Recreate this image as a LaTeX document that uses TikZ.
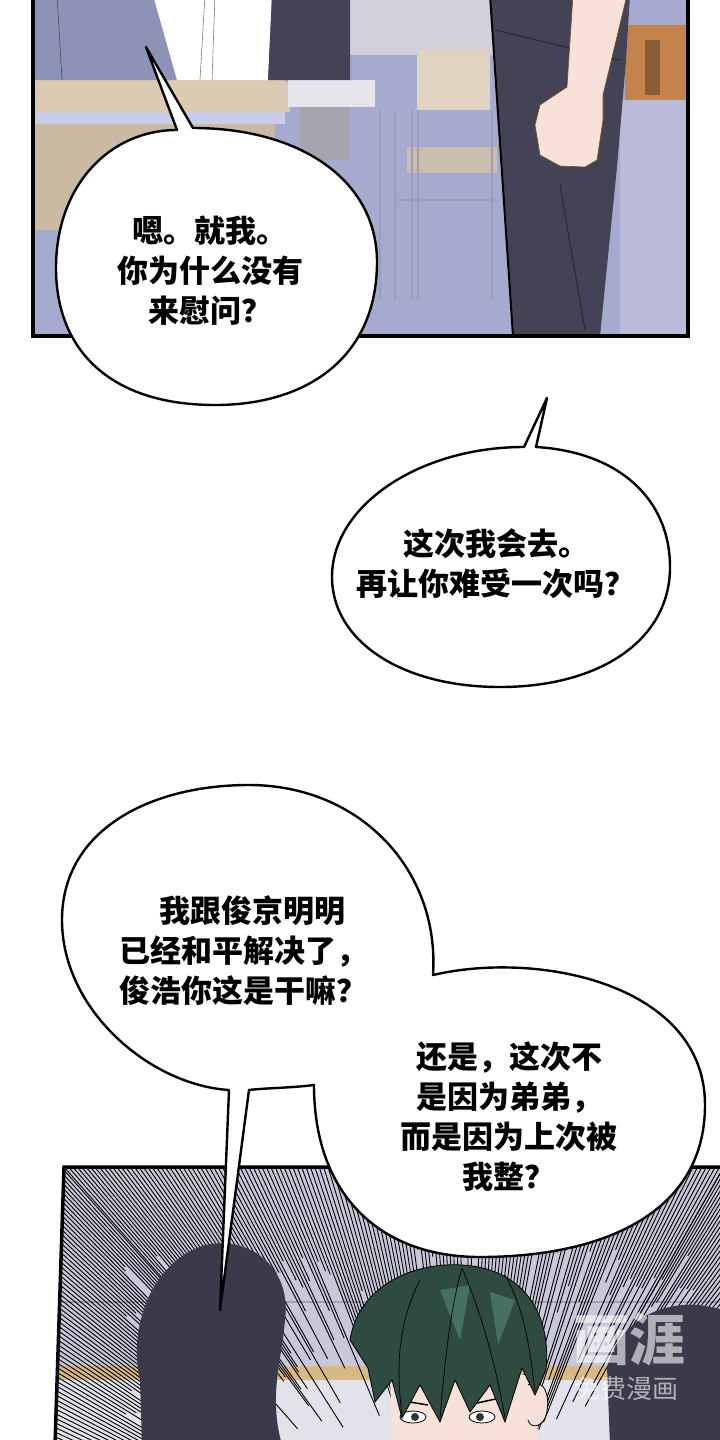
\documentclass[tikz,border=0pt]{standalone}
\usepackage{fontspec}
\newfontfamily\cjk{Noto Sans CJK SC}
\usetikzlibrary{calc}

\definecolor{floorblue}{HTML}{A7AACF}
\definecolor{wallgray}{HTML}{D2D0DA}
\definecolor{deskbeige}{HTML}{DCCAB2}
\definecolor{deskbar}{HTML}{C9CDEA}
\definecolor{desktop}{HTML}{E6E4EA}
\definecolor{pantsblue}{HTML}{8D92B7}
\definecolor{darkcloth}{HTML}{444356}
\definecolor{skin}{HTML}{F7E1D8}
\definecolor{chairbeige}{HTML}{E0D3BF}
\definecolor{leggray}{HTML}{9D9FBA}
\definecolor{rustbrown}{HTML}{C4834D}
\definecolor{panelbg}{HTML}{C8C8DA}
\definecolor{stripe}{HTML}{D8B984}
\definecolor{lightband}{HTML}{E2E2EA}
\definecolor{shadowfig}{HTML}{3B3A4B}
\definecolor{hairgreen}{HTML}{2E4A41}
\definecolor{hairlight}{HTML}{46705F}

\begin{document}
\begin{tikzpicture}[x=1pt,y=-1pt]
  \tikzset{
    bubble/.style={fill=white,draw=black,line width=2.4pt,line join=round},
    speech/.style={font=\cjk\bfseries\fontsize{31}{40}\selectfont,align=center,inner sep=0pt},
    panelframe/.style={draw=black,line width=3.5pt},
    speedline/.style={black,line width=0.9pt},
    watermark/.style={text=white,opacity=0.6}
  }
  \useasboundingbox (0,0) rectangle (720,1440);
  \fill[white] (0,0) rectangle (720,1440);

  % top panel
  \begin{scope}
    \clip (33,-5) rectangle (688,336);
    \fill[floorblue] (33,-5) rectangle (688,336);
    \fill[wallgray] (350,-5) rectangle (495,55);
    \fill[rustbrown] (625,25) rectangle (688,100);
    \fill[rustbrown!70!black] (645,40) rectangle (660,95);
    \fill[floorblue!80!white] (620,100) rectangle (688,336);
    % chairs in the back
    \fill[chairbeige] (417,50) rectangle (490,110);
    \fill[chairbeige!90!black] (407,147) rectangle (497,173);
    \foreach \lx in {380,395,412,418,492}
      \draw[leggray,line width=2.5pt] (\lx,110) -- (\lx,300);
    \draw[leggray,line width=2pt] (395,200) -- (495,200);
    % desk in front
    \fill[deskbeige] (33,80) -- (280,80) .. controls (288,80) and (290,84) .. (290,92) -- (290,112) -- (33,112) -- cycle;
    \fill[deskbar] (33,112) rectangle (285,124);
    \fill[deskbeige!92!black] (33,124) rectangle (275,230);
    \fill[desktop] (288,80) rectangle (375,107);
    \fill[desktop!60!darkcloth] (300,107) rectangle (350,160);
    % people
    \fill[pantsblue] (33,-5) -- (153,-5) -- (177,80) -- (33,80) -- cycle;
    \draw[black!70,line width=0.6pt] (57,-5) -- (62,80);
    \fill[white] (153,-5) -- (272,-5) -- (268,80) -- (177,80) -- cycle;
    \draw[gray,line width=0.6pt] (205,-5) -- (200,80) (215,-5) -- (212,80);
    \fill[darkcloth] (272,-5) -- (350,-5) -- (350,80) -- (268,80) -- cycle;
    \fill[darkcloth] (490,-5) -- (630,-5) -- (626,60) -- (617,167) -- (600,336) -- (513,336) -- cycle;
    \draw[darkcloth!60!black,line width=1pt] (560,185) -- (585,330) (495,30) -- (620,60);
    \draw[black,line width=2pt] (490,-5) -- (513,336);
    \fill[skin,draw=brown!60!black,line width=0.6pt] (573,-5) -- (567,87) -- (540,105) -- (535,125) -- (540,155) -- (560,166) -- (585,167) -- (597,160) -- (603,120) -- (603,95) -- (627,-5) -- cycle;
  \end{scope}
  \draw[panelframe] (33,-10) -- (33,336) -- (688,336) -- (688,-10);

  % bottom panel
  \begin{scope}
    \clip (64,1167) -- (725,1167) -- (725,1445) -- (55,1445) -- cycle;
    \fill[panelbg] (50,1160) rectangle (725,1445);
    \fill[lightband] (50,1380) rectangle (725,1445);
    \fill[stripe] (50,1366) rectangle (725,1380);
    \draw[panelbg!80!black,line width=1.5pt] (50,1302) -- (725,1302);
    \coordinate (focus) at (465,1620);
    \pgfmathsetseed{11}
    \foreach \i in {0,...,150}{
      \pgfmathsetmacro\xs{64+\i*4.4}
      \pgfmathsetmacro\rlen{0.18+0.42*rnd}
      \draw[speedline] (\xs,1167) -- ($(\xs,1167)!\rlen!(focus)$);
    }
    \foreach \i in {0,...,60}{
      \pgfmathsetmacro\ys{1170+\i*4.6}
      \pgfmathsetmacro\xs{64-9*(\ys-1167)/273}
      \pgfmathsetmacro\rlen{0.15+0.4*rnd}
      \draw[speedline] (\xs,\ys) -- ($(\xs,\ys)!\rlen!(focus)$);
    }
    \foreach \i in {0,...,45}{
      \pgfmathsetmacro\ys{1170+\i*6}
      \pgfmathsetmacro\rlen{0.1+0.3*rnd}
      \draw[speedline] (722,\ys) -- ($(722,\ys)!\rlen!(focus)$);
    }
    % dark figure on the left
    \fill[shadowfig] (142,1445) -- (140,1380) .. controls (128,1330) and (150,1262) .. (205,1245) .. controls (250,1235) and (292,1268) .. (285,1320) .. controls (282,1360) and (268,1395) .. (282,1445) -- cycle;
    % dark figure on the right
    \fill[shadowfig] (610,1445) -- (607,1367) .. controls (620,1320) and (660,1302) .. (700,1305) -- (725,1310) -- (725,1445) -- cycle;
    % green haired boy
    \fill[skin] (390,1375) -- (540,1375) -- (537,1445) -- (392,1445) -- cycle;
    \fill[skin,draw=black,line width=0.8pt] (528,1385) .. controls (545,1375) and (552,1400) .. (545,1418) .. controls (540,1428) and (530,1428) .. (528,1420);
    \fill[white,draw=black,line width=0.8pt] (413,1417) ellipse (13 and 6) (482,1417) ellipse (13 and 6);
    \fill[black!80] (415,1417) circle (4) (480,1417) circle (4);
    \draw[black,line width=1.5pt] (398,1400) -- (428,1405) (468,1405) -- (500,1398);
    \fill[hairgreen,draw=black,line width=0.8pt] (350,1340) .. controls (358,1288) and (410,1262) .. (462,1265) .. controls (520,1268) and (552,1310) .. (546,1370) -- (535,1395) -- (522,1368) -- (505,1422) -- (490,1385) -- (470,1412) -- (455,1380) -- (440,1422) -- (420,1385) -- (402,1418) -- (392,1380) -- (375,1402) -- (368,1368) -- cycle;
    \fill[hairlight] (440,1290) -- (470,1285) -- (460,1340) -- cycle (490,1292) -- (515,1300) -- (498,1345) -- cycle;
    \draw[black,line width=0.7pt] (462,1268) .. controls (450,1310) and (445,1360) .. (440,1418)
      (462,1268) .. controls (480,1310) and (495,1360) .. (505,1418)
      (420,1280) .. controls (400,1320) and (395,1360) .. (402,1415)
      (505,1275) .. controls (525,1310) and (530,1350) .. (535,1392);
    % watermark
    \node[watermark,font=\cjk\bfseries\fontsize{56}{56}\selectfont] (logo) at (629,1339) {画涯};
    \node[watermark,font=\cjk\fontsize{26}{26}\selectfont] (logosub) at (626,1389) {免费漫画};
  \end{scope}
  \draw[panelframe] (725,1167) -- (64,1167) -- (55,1445);

  % speech bubbles
  \draw[bubble] (193,128) .. controls (300,128) and (377,180) .. (377,262) .. controls (377,355) and (310,405) .. (215,405) .. controls (110,405) and (56,350) .. (56,268) .. controls (56,185) and (110,130) .. (177,130) -- (146,47) -- cycle;
  \node[speech] (askwhy) at (210,271) {嗯。就我。\\你为什么没有\\来慰问？};

  \draw[bubble] (536,447) .. controls (620,452) and (670,500) .. (670,567) .. controls (670,640) and (600,687) .. (500,687) .. controls (400,687) and (332,640) .. (332,577) .. controls (332,505) and (420,447) .. (524,447) -- (547,398) -- cycle;
  \node[speech] (willgo) at (496,564) {这次我会去。\\再让你难受一次吗？};

  \draw[bubble] (220,1310) -- (229,1090) .. controls (150,1085) and (62,1010) .. (62,920) .. controls (62,830) and (150,785) .. (249,785) .. controls (360,785) and (440,870) .. (433,975) .. controls (540,950) and (705,985) .. (705,1105) .. controls (705,1215) and (600,1257) .. (480,1257) .. controls (380,1257) and (314,1195) .. (314,1085) .. controls (290,1088) and (265,1088) .. (249,1090) -- cycle;
  \node[speech] (settled) at (243,951) {\hspace*{0.6em}我跟俊京明明\\已经和平解决了，\\俊浩你这是干嘛？};
  \node[speech] (becauseme) at (509,1117) {还是，这次不\\是因为弟弟，\\而是因为上次被\\我整？};
\end{tikzpicture}
\end{document}
